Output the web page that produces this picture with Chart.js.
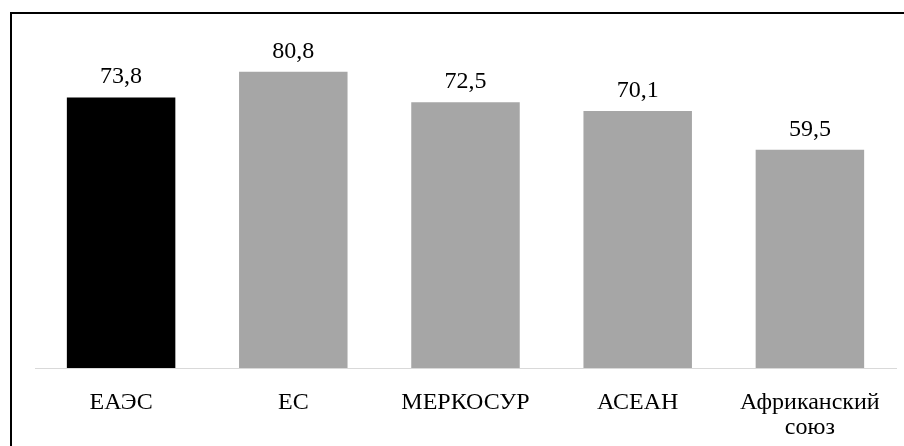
<!DOCTYPE html>
<html>
<head>
<meta charset="utf-8">
<script src="https://cdn.jsdelivr.net/npm/chart.js@4/dist/chart.umd.min.js"></script>
<style>
    html, body { margin: 0; padding: 0; background: #fff; overflow: hidden; }
    #wrap { position: relative; width: 904px; height: 446px; }
    #frame {
        position: absolute; left: 10px; top: 12px;
        width: 1000px; height: 1000px;
        border: 2px solid #000; box-sizing: border-box;
    }
    canvas { position: absolute; left: 0; top: 0; }
</style>
</head>
<body>
<div id="wrap">
    <div id="frame"></div>
    <canvas id="myChart" width="904" height="446"></canvas>
</div>
<script>
const categories = ['ЕАЭС', 'ЕС', 'МЕРКОСУР', 'АСЕАН', ['Африканский', 'союз']];
const values = [73.8, 80.8, 72.5, 70.1, 59.5];
const barColors = ['#000000', '#a6a6a6', '#a6a6a6', '#a6a6a6', '#a6a6a6'];

const serif = '"Liberation Serif", "Times New Roman", serif';

// value labels above the bars
const valueLabels = {
    id: 'valueLabels',
    afterDatasetsDraw(chart) {
        const ctx = chart.ctx;
        const meta = chart.getDatasetMeta(0);
        ctx.save();
        ctx.font = '24px ' + serif;
        ctx.fillStyle = '#000';
        ctx.textAlign = 'center';
        ctx.textBaseline = 'alphabetic';
        meta.data.forEach((bar, i) => {
            ctx.fillText(values[i].toFixed(1).replace('.', ','), bar.x, bar.y - 14);
        });
        ctx.restore();
    }
};

const ctx = document.getElementById('myChart');
const myChart = new Chart(ctx, {
    type: 'bar',
    data: {
        labels: categories,
        datasets: [{
            data: values,
            backgroundColor: barColors,
            borderWidth: 0,
            barPercentage: 0.63,
            categoryPercentage: 1
        }]
    },
    options: {
        responsive: false,
        animation: false,
        layout: { padding: { top: 38, left: 35, right: 8, bottom: 0 } },
        plugins: {
            legend: { display: false },
            tooltip: { enabled: false }
        },
        scales: {
            x: {
                grid: { display: false },
                border: { display: true, color: '#d9d9d9', width: 1 },
                ticks: {
                    color: '#000',
                    font: { family: serif, size: 24, lineHeight: 1.05 },
                    padding: 14,
                    maxRotation: 0
                },
                afterFit: (scale) => { scale.height = 78; }
            },
            y: {
                display: false,
                min: 0,
                max: 90
            }
        }
    },
    plugins: [valueLabels]
});
</script>
</body>
</html>
